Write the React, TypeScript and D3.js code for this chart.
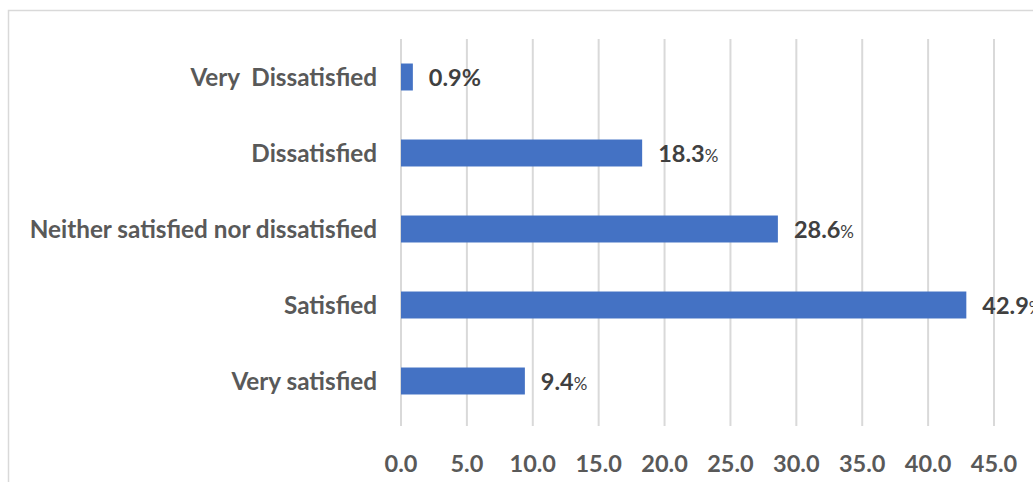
import React from "react";
import * as d3 from "d3";

const categories = [
  "Very  Dissatisfied",
  "Dissatisfied",
  "Neither satisfied nor dissatisfied",
  "Satisfied",
  "Very satisfied",
];
const values = [0.9, 18.3, 28.6, 42.9, 9.4];
const ticks = [0, 5, 10, 15, 20, 25, 30, 35, 40, 45];

const W = 1033;
const H = 482;
const FONT = "Lato, 'Open Sans', sans-serif";

export default function App() {
  const x = d3.scaleLinear().domain([0, 45]).range([401, 994]);
  const y = d3
    .scaleBand<string>()
    .domain(categories)
    .range([39, 419])
    .paddingInner(0.645)
    .paddingOuter(0.3225);
  const gridBottom = 426;

  return (
    <svg
      width={W}
      height={H}
      style={{ position: "absolute", left: 0, top: 0 }}
      xmlns="http://www.w3.org/2000/svg"
    >
      <rect x={0} y={0} width={W} height={H} fill="#ffffff" />
      <rect
        x={8.5}
        y={10.5}
        width={1100}
        height={600}
        fill="none"
        stroke="#d9d9d9"
        strokeWidth={1.5}
      />
      {ticks.map((t) => (
        <line
          key={"g" + t}
          x1={x(t)}
          x2={x(t)}
          y1={39}
          y2={gridBottom}
          stroke="#d9d9d9"
          strokeWidth={2}
        />
      ))}
      {ticks.map((t) => (
        <text
          key={"t" + t}
          x={x(t)}
          y={471.5}
          textAnchor="middle"
          fontFamily={FONT}
          fontWeight="bold"
          fontSize={23.5}
          fill="#595959"
        >
          {t.toFixed(1)}
        </text>
      ))}
      {categories.map((c, i) => {
        const yy = y(c)!;
        const bw = y.bandwidth();
        const v = values[i];
        const end = x(v);
        const small = i !== 0;
        return (
          <g key={c}>
            <rect
              x={x(0)}
              y={yy}
              width={end - x(0)}
              height={bw}
              fill="#4472c4"
            />
            <text
              x={377}
              y={yy + bw / 2 + 8.5}
              textAnchor="end"
              fontFamily={FONT}
              fontWeight="bold"
              fontSize={24.3}
              fill="#595959"
              style={{ whiteSpace: "pre" }}
            >
              {c}
            </text>
            <text
              x={end + 16}
              y={yy + bw / 2 + 9}
              fontFamily={FONT}
              fontWeight="bold"
              fontSize={23.5}
              fill="#404040"
            >
              {v.toFixed(1)}
              <tspan
                fontWeight={small ? "normal" : "bold"}
                fontSize={small ? 17 : 23.5}
              >
                %
              </tspan>
            </text>
          </g>
        );
      })}
    </svg>
  );
}
